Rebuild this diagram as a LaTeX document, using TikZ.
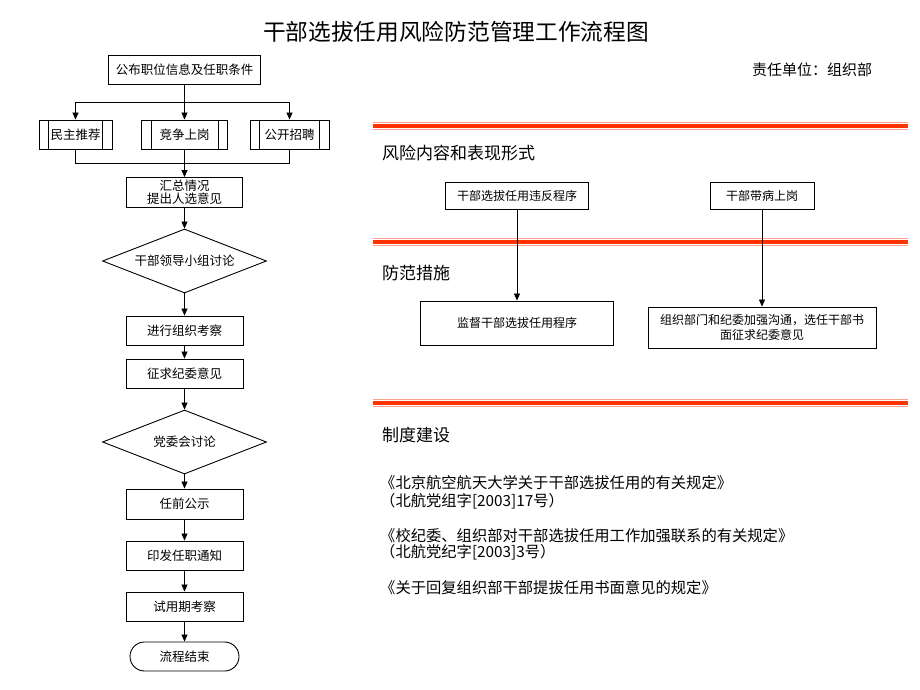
\documentclass[tikz,border=0pt]{standalone}
\usepackage{fontspec}
\setmainfont{Noto Sans CJK SC}
\usetikzlibrary{arrows.meta,shapes.geometric}
\definecolor{rulered}{RGB}{255,51,0}
\definecolor{rulepink}{RGB}{255,160,140}
\begin{document}
\begin{tikzpicture}[x=1pt,y=-1pt,
  box/.style={draw=black,line width=0.9pt,rectangle,inner sep=0pt,align=center,font=\fontsize{12.5}{13}\selectfont},
  rbox/.style={draw=black,line width=0.9pt,rectangle,inner sep=0pt,align=center,font=\fontsize{12}{15}\selectfont},
  pbox/.style={box,path picture={
     \draw[line width=0.9pt] ([xshift=9.5pt]path picture bounding box.north west) -- ([xshift=9.5pt]path picture bounding box.south west);
     \draw[line width=0.9pt] ([xshift=-9.5pt]path picture bounding box.north east) -- ([xshift=-9.5pt]path picture bounding box.south east);}},
  dbox/.style={draw=black,line width=0.9pt,diamond,aspect=2.56,inner sep=0pt,minimum width=164pt,minimum height=64pt,font=\fontsize{12.5}{13}\selectfont},
  ebox/.style={draw=black,line width=0.9pt,rectangle,rounded corners=14.5pt,inner sep=0pt,font=\fontsize{12.5}{13}\selectfont},
  arr/.style={line width=0.8pt,-{Triangle[length=7pt,width=6pt]}},
  ln/.style={line width=0.8pt},
  head/.style={anchor=west,inner sep=0pt,font=\fontsize{17}{20}\selectfont},
  reg/.style={anchor=west,inner sep=0pt,font=\fontsize{15.3}{18}\selectfont},
  redrule/.style={line width=4pt,draw=rulered}
]
\useasboundingbox (0,0) rectangle (920,690);
\fill[white] (0,0) rectangle (920,690);

% title
\node[inner sep=0pt,font=\fontsize{22.7}{26}\selectfont] (title) at (456,32) {干部选拔任用风险防范管理工作流程图};
\node[anchor=west,inner sep=0pt,font=\fontsize{15}{18}\selectfont] (resp) at (752,70) {责任单位：组织部};

% left flowchart
\node[box,minimum width=152pt,minimum height=29pt] (top) at (184.5,69.5) {公布职位信息及任职条件};
\node[pbox,minimum width=73pt,minimum height=29pt] (b1) at (75.5,134.5) {民主推荐};
\node[pbox,minimum width=86pt,minimum height=29pt] (b2) at (184.5,134.5) {竞争上岗};
\node[pbox,minimum width=79pt,minimum height=29pt] (b3) at (289.5,134.5) {公开招聘};
\node[box,minimum width=116pt,minimum height=30pt] (sum) at (184.5,192.5) {汇总情况\\提出人选意见};
\node[dbox] (d1) at (184.5,261) {干部领导小组讨论};
\node[box,minimum width=117pt,minimum height=29pt] (ex) at (184.5,330.5) {进行组织考察};
\node[box,minimum width=117pt,minimum height=29pt] (zq) at (184.5,373.5) {征求纪委意见};
\node[dbox] (d2) at (184.5,442) {党委会讨论};
\node[box,minimum width=117pt,minimum height=30pt] (rq) at (184.5,504) {任前公示};
\node[box,minimum width=117pt,minimum height=29pt] (yf) at (184.5,555.5) {印发任职通知};
\node[box,minimum width=117pt,minimum height=29pt] (sy) at (184.5,606.5) {试用期考察};
\node[ebox,minimum width=109pt,minimum height=29pt] (end) at (184.5,656.5) {流程结束};

\coordinate (split) at (184.5,102);
\coordinate (merge) at (184.5,163);
\draw[ln] (top.south) -- (split);
\draw[arr] (split) -| (b1.north);
\draw[arr] (split) -| (b3.north);
\draw[arr] (split) -- (b2.north);
\draw[ln] (b1.south) |- (merge);
\draw[ln] (b3.south) |- (merge);
\draw[arr] (b2.south) -- (sum.north);
\draw[arr] (sum.south) -- (d1.north);
\draw[arr] (d1.south) -- (ex.north);
\draw[arr] (ex.south) -- (zq.north);
\draw[arr] (zq.south) -- (d2.north);
\draw[arr] (d2.south) -- (rq.north);
\draw[arr] (rq.south) -- (yf.north);
\draw[arr] (yf.south) -- (sy.north);
\draw[arr] (sy.south) -- (end.north);

% red rules
\foreach \yy in {126,242,403}{
  \draw[line width=1pt,draw=rulepink] (373,\yy-3.2) -- (908,\yy-3.2);
  \draw[line width=1.2pt,draw=rulepink] (373,\yy+3.4) -- (908,\yy+3.4);
  \draw[redrule] (373,\yy) -- (908,\yy);
}

% right side
\node[head] (h1) at (382,153) {风险内容和表现形式};
\node[head] (h2) at (382,273) {防范措施};
\node[head] (h3) at (382,435) {制度建设};

\node[rbox,minimum width=143pt,minimum height=27pt] (r1) at (517,195.5) {干部选拔任用违反程序};
\node[rbox,minimum width=104pt,minimum height=27pt] (r2) at (762,195.5) {干部带病上岗};
\node[rbox,minimum width=193pt,minimum height=44pt] (m1) at (517,323) {监督干部选拔任用程序};
\node[rbox,minimum width=228pt,minimum height=41pt] (m2) at (762,327.5) {组织部门和纪委加强沟通，选任干部书\\面征求纪委意见};
\draw[arr] (r1.south) -- (m1.north);
\draw[arr] (r2.south) -- (m2.north);

\node[reg] (t1) at (380,482.5) {《北京航空航天大学关于干部选拔任用的有关规定》};
\node[reg] (t2) at (380,501.5) {（北航党组字[2003]17号）};
\node[reg] (t3) at (380,536) {《校纪委、组织部对干部选拔任用工作加强联系的有关规定》};
\node[reg] (t4) at (380,552.5) {（北航党纪字[2003]3号）};
\node[reg] (t5) at (380,588) {《关于回复组织部干部提拔任用书面意见的规定》};
\end{tikzpicture}
\end{document}
